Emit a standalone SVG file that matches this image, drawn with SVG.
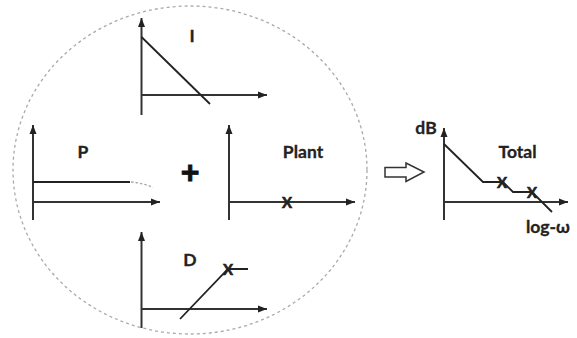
<svg xmlns="http://www.w3.org/2000/svg" width="577" height="338" viewBox="0 0 577 338">
<style>
.ax{stroke:#333;stroke-width:2;fill:none}
.ln{stroke:#222;stroke-width:1.8;fill:none}
.lb{font-family:Lato,"Open Sans","Liberation Sans",sans-serif;font-weight:bold;font-size:17.5px;fill:#222;stroke:#222;stroke-width:0.3}
.xm{font-family:Lato,"Open Sans","Liberation Sans",sans-serif;font-weight:bold;font-size:15px;fill:#222;stroke:#222;stroke-width:0.6;text-anchor:middle}
</style>
<defs>
<marker id="ah" markerUnits="userSpaceOnUse" markerWidth="10" markerHeight="8" refX="9" refY="4" orient="auto">
<path d="M0,0.5 L9,4 L0,7.5 z" fill="#222"/>
</marker>
</defs>
<rect width="577" height="338" fill="#fff"/>
<g id="circle">
<ellipse cx="190" cy="170" rx="177" ry="164" fill="none" stroke="#aaa" stroke-width="1.3" stroke-dasharray="3,3"/>
</g>
<g id="node-I">
<line class="ax" x1="141.5" y1="115" x2="141.5" y2="18" marker-end="url(#ah)"/>
<line class="ax" x1="141.5" y1="95" x2="267" y2="95" marker-end="url(#ah)"/>
<line class="ln" x1="141.5" y1="37" x2="210" y2="104"/>
<text class="lb" x="192" y="42" text-anchor="middle">I</text>
</g>
<g id="node-P">
<line class="ax" x1="33" y1="220" x2="33" y2="125" marker-end="url(#ah)"/>
<line class="ax" x1="33" y1="202" x2="160" y2="202" marker-end="url(#ah)"/>
<line class="ln" x1="33" y1="182" x2="130" y2="182"/>
<path d="M131,182 Q143,183 153,187.5" fill="none" stroke="#aaa" stroke-width="1.3" stroke-dasharray="2.5,2"/>
<text class="lb" x="83" y="158" text-anchor="middle">P</text>
</g>
<g id="node-plus">
<text x="190" y="183" text-anchor="middle" style="font-family:'Liberation Sans',sans-serif;font-weight:bold;font-size:32px;fill:#111;stroke:#111;stroke-width:0.8">+</text>
</g>
<g id="node-Plant">
<line class="ax" x1="229" y1="220" x2="229" y2="125" marker-end="url(#ah)"/>
<line class="ax" x1="229" y1="202" x2="355" y2="202" marker-end="url(#ah)"/>
<text class="xm" x="287" y="207.5">X</text>
<text class="lb" x="303" y="158" text-anchor="middle">Plant</text>
</g>
<g id="node-D">
<line class="ax" x1="141.5" y1="328" x2="141.5" y2="232" marker-end="url(#ah)"/>
<line class="ax" x1="141.5" y1="309" x2="267" y2="309" marker-end="url(#ah)"/>
<polyline class="ln" points="180,319 228,269 248,269"/>
<text class="xm" x="228" y="274.5">X</text>
<text class="lb" x="190" y="266" text-anchor="middle">D</text>
</g>
<g id="connectors">
<path d="M385,167.5 L406,167.5 L406,163 L424,172 L406,181.5 L406,177 L385,177 z" fill="#fff" stroke="#333" stroke-width="1.5"/>
</g>
<g id="node-Total">
<line class="ax" x1="444" y1="220" x2="444" y2="128" marker-end="url(#ah)"/>
<line class="ax" x1="444" y1="202" x2="568" y2="202" marker-end="url(#ah)"/>
<polyline class="ln" points="444,144 483,182 503,182 513,192 532,192 552,212"/>
<text class="xm" x="502" y="187.5">X</text>
<text class="xm" x="532" y="197.5">X</text>
<text class="lb" x="426" y="134" text-anchor="middle">dB</text>
<text class="lb" x="517.5" y="158" text-anchor="middle">Total</text>
<text class="lb" x="548" y="233" text-anchor="middle">log-ω</text>
</g>
</svg>
